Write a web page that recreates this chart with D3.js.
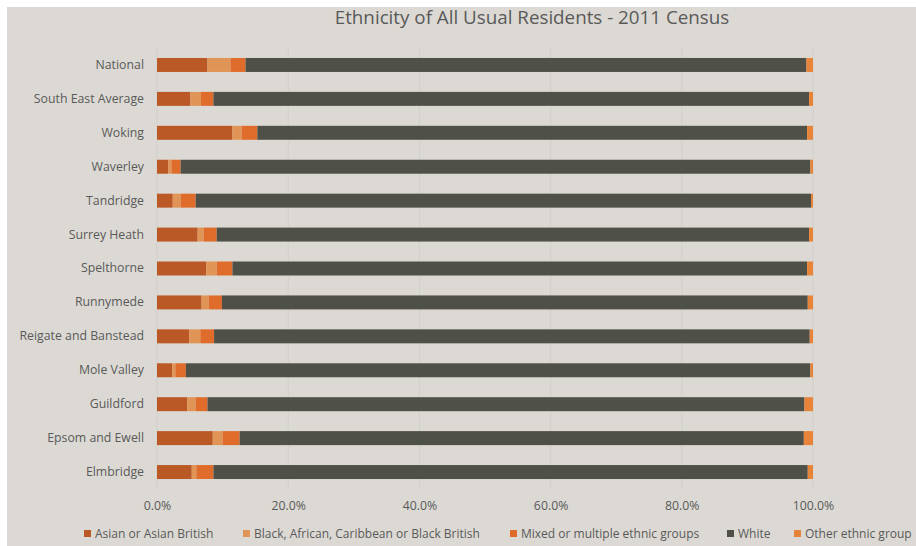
<!DOCTYPE html>
<html><head><meta charset="utf-8">
<script src="https://cdn.jsdelivr.net/npm/d3@7"></script>
<style>
html,body{margin:0;padding:0;background:#fff;}
svg{display:block;}
text{font-family:"Open Sans",sans-serif;}
</style></head>
<body><svg id="c" width="916" height="546"></svg>
<script>
const categories = ["National","South East Average","Woking","Waverley","Tandridge","Surrey Heath","Spelthorne","Runnymede","Reigate and Banstead","Mole Valley","Guildford","Epsom and Ewell","Elmbridge"];
const seriesNames = ["Asian or Asian British","Black, African, Caribbean or Black British","Mixed or multiple ethnic groups","White","Other ethnic group"];
const asian = [7.7,5.1,11.5,1.7,2.4,6.2,7.5,6.8,4.9,2.3,4.6,8.5,5.3];
const black = [3.5,1.6,1.4,0.5,1.2,0.9,1.6,1.1,1.7,0.5,1.3,1.5,0.7];
const mixed = [2.3,1.9,2.4,1.4,2.3,2.0,2.4,2.0,2.1,1.6,1.8,2.6,2.6];
const white = [85.5,90.8,83.8,96.0,93.8,90.3,87.6,89.3,90.8,95.2,91.0,86.0,90.6];
const other = [1.0,0.6,0.9,0.4,0.3,0.6,0.9,0.8,0.5,0.4,1.3,1.4,0.8];
const tickValues = [0,20,40,60,80,100];
const colors = ["#ba5925","#e09556","#e06c2c","#4f5149","#e8843a"];

const seriesValues = [asian,black,mixed,white,other];
const data = categories.map((c,i)=>{const o={cat:c}; seriesNames.forEach((s,j)=>o[s]=seriesValues[j][i]); return o;});
const svg = d3.select("#c");
svg.append("rect").attr("x",7).attr("y",7).attr("width",909).attr("height",539).attr("fill","#dcd9d4");

const x = d3.scaleLinear().domain([0,100]).range([157,813]);
const y = d3.scaleBand().domain(categories).range([48,489]).paddingInner(0.588).paddingOuter(0.294);

// gridlines
svg.append("g").selectAll("line").data(tickValues).join("line")
  .attr("x1",d=>x(d)).attr("x2",d=>x(d)).attr("y1",47).attr("y2",489)
  .attr("stroke","#d2cfca").attr("stroke-width",1);

const stack = d3.stack().keys(seriesNames)(data);
svg.append("g").selectAll("g").data(stack).join("g")
  .attr("fill",(d,i)=>colors[i])
  .selectAll("rect").data(d=>d).join("rect")
  .attr("x",d=>x(d[0])).attr("width",d=>x(d[1])-x(d[0]))
  .attr("y",d=>y(d.data.cat)).attr("height",y.bandwidth());

// y axis labels
const ya = svg.append("g").attr("transform","translate(157,0)").call(d3.axisLeft(y).tickSize(0).tickPadding(13));
ya.select(".domain").remove();
ya.selectAll("text").attr("font-size","12.3px").attr("fill","#595959").style("font-family","'Open Sans',sans-serif");

// x axis
const xa = svg.append("g").attr("transform","translate(0,499)").call(d3.axisBottom(x).tickValues(tickValues).tickSize(0).tickPadding(2).tickFormat(d=>d3.format(".1f")(d)+"%"));
xa.select(".domain").remove();
xa.selectAll("text").attr("font-size","12.3px").attr("fill","#595959").style("font-family","'Open Sans',sans-serif");

// title
svg.append("text").attr("x",532).attr("y",24).attr("text-anchor","middle").attr("font-size","18.8px").attr("fill","#595959").text("Ethnicity of All Usual Residents - 2011 Census");

// legend
const legX = [84,243,510,727,794];
const leg = svg.append("g").selectAll("g").data(seriesNames).join("g").attr("transform",(d,i)=>`translate(${legX[i]},530)`);
leg.append("rect").attr("width",7).attr("height",7).attr("fill",(d,i)=>colors[i]);
leg.append("text").attr("x",11).attr("y",7.5).attr("font-size","12px").attr("fill","#595959").text(d=>d);
</script></body></html>
